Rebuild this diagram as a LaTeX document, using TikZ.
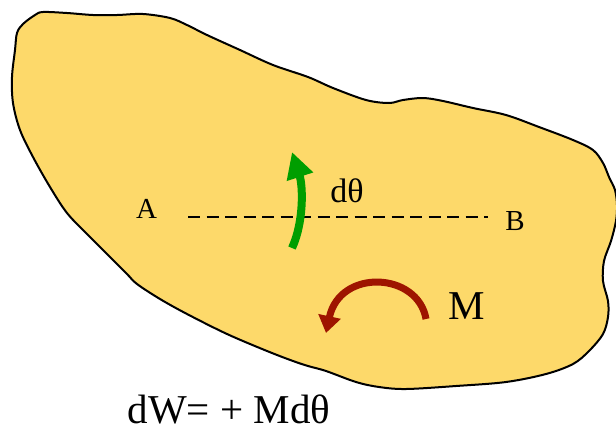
\documentclass[tikz,border=0pt]{standalone}
\usepackage{fontspec}
\setmainfont{Liberation Serif}
\usetikzlibrary{arrows.meta}
\definecolor{blobfill}{RGB}{253,217,106}
\definecolor{arrgreen}{RGB}{0,158,0}
\definecolor{arrred}{RGB}{158,20,0}
\tikzset{
  lbl/.style={inner sep=0pt, anchor=base},
  blob/.style={draw=black, line width=2pt, fill=blobfill},
  axisline/.style={draw=black, line width=1.6pt, dash pattern=on 12pt off 6.5pt},
  rotarrow/.style={line width=8pt, -{Triangle[length=26pt,width=26pt]}},
  momarrow/.style={line width=7pt, -{Triangle[length=17pt,width=22pt]}}
}
\begin{document}
\begin{tikzpicture}[x=1pt,y=-1pt]
\useasboundingbox (0,0) rectangle (616,429);
\draw[blob] plot[smooth cycle, tension=0.55] coordinates {
 (43,12) (67,13) (93,15) (117,15) (143,14) (170,18) (187,25) (207,35)
 (240,50) (273,65) (308,77) (333,88) (366,100) (389,103) (403,100)
 (423,98) (443,101) (473,108) (506,115) (539,127) (573,140) (593,150)
 (603,163) (609,177) (615,190) (617,205) (616,221) (611,241) (604,261)
 (603,281) (608,301) (608,317) (603,334) (589,351) (573,364) (546,374)
 (506,382) (456,386) (406,389) (379,387) (356,382) (326,371) (308,366)
 (293,361) (267,351) (227,334) (187,314) (160,299) (137,284) (127,274)
 (107,254) (87,234) (67,213) (50,187) (33,157) (20,130) (13,103)
 (12,77) (15,50) (17,33) (23,24) (35,15)};
% labels
\node[lbl] (A) at (146.5,218) {\fontsize{29}{29}\selectfont A};
\node[lbl] (B) at (515,230) {\fontsize{29}{29}\selectfont B};
\node[lbl] (dth) at (347,202) {\fontsize{34}{34}\selectfont dθ};
\node[lbl] (M) at (467,319) {\fontsize{41}{41}\selectfont M};
\node[lbl] (eq) at (229,423) {\fontsize{41}{41}\selectfont dW= + Mdθ};
% dashed line A-B
\coordinate (pA) at (188,217);
\coordinate (pB) at (488,217);
\draw[axisline] (pA) -- (pB);
% green rotation arrow
\coordinate (g0) at (292,248);
\coordinate (g1) at (292,152);
\draw[rotarrow, arrgreen] (g0) .. controls (304,222) and (303,186) .. (g1);
% red moment arrow
\coordinate (r0) at (426,319);
\coordinate (r1) at (326,333);
\draw[momarrow, arrred] (r0) .. controls (418,272) and (340,268) .. (r1);
\end{tikzpicture}
\end{document}
